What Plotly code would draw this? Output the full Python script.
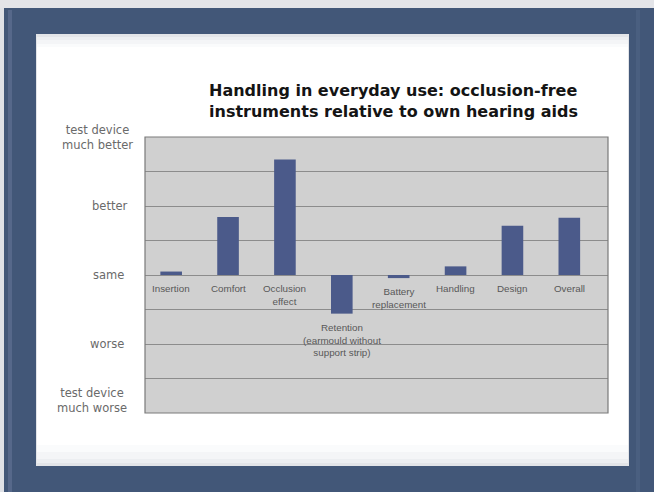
import plotly.graph_objects as go

# Survey results: rating of the test device vs. own hearing aids
categories = [
    "Insertion",
    "Comfort",
    "Occlusion<br>effect",
    "Retention<br>(earmould without<br>support strip)",
    "Battery<br>replacement",
    "Handling",
    "Design",
    "Overall",
]
ratings = [0.1, 1.68, 3.35, -1.12, -0.09, 0.25, 1.43, 1.66]

scale_values = [4, 2, 0, -2, -4]
scale_labels = [
    "test device<br>much better",
    "better",
    "same",
    "worse",
    "test device<br>much worse",
]

W, H = 654, 492
L, R, T, B = 145, 46, 137, 79
PW, PH = W - L - R, H - T - B


def px(x):
    return (x - L) / PW


def py(y):
    return (H - B - y) / PH


FRAME = "#425778"
BAR = "#4b5a8a"

idx = list(range(len(categories)))

fig = go.Figure(
    go.Bar(
        x=idx,
        y=ratings,
        width=0.38,
        marker=dict(color=BAR, line=dict(width=0)),
        hoverinfo="skip",
    )
)


def rect(x0, y0, x1, y1, color):
    return dict(type="rect", xref="paper", yref="paper",
                x0=px(x0), x1=px(x1), y0=py(y0), y1=py(y1),
                fillcolor=color, line=dict(width=0), layer="below")


shapes = [
    # light strip above and left of the frame
    rect(0, 0, W, 8, "#e3e4e8"),
    rect(0, 8, 4, H, "#dfe1e6"),
    # subtle highlights on the frame
    rect(8, 10, 12, H, "#56688a"),
    rect(636, 10, 640, H, "#4a5f80"),
    # slide panel with soft shading at top and bottom edges
    rect(36, 34, 629, 466, "#e2e4e8"),
    rect(37, 37, 628, 463, "#eceef1"),
    rect(37, 40, 628, 459, "#f4f5f7"),
    rect(37, 44, 628, 452, "#fafbfc"),
    rect(37, 47, 628, 445, "#ffffff"),
    # plot background
    rect(L, T, W - R, H - B, "#d0d0d0"),
    # plot area border
    dict(type="rect", xref="paper", yref="paper", x0=0, x1=1, y0=0, y1=1,
         line=dict(color="#7a7a7a", width=1.2), fillcolor="rgba(0,0,0,0)"),
]

annotations = [
    dict(
        text="Handling in everyday use: occlusion-free<br>instruments relative to own hearing aids",
        xref="paper", yref="paper", x=px(393), y=py(101),
        showarrow=False, xanchor="center", yanchor="middle", align="left",
        font=dict(family="DejaVu Sans", size=16, color="#141414", weight="bold"),
    )
]

# category labels sit just below the bar foot (or the zero line)
for i, (cat, val) in enumerate(zip(categories, ratings)):
    annotations.append(
        dict(
            text=cat, x=i, y=min(val, 0), xref="x", yref="y",
            showarrow=False, xanchor="center", yanchor="top", yshift=-6,
            align="center",
            font=dict(family="Liberation Sans", size=9.8, color="#585858"),
        )
    )

# scale labels on the left
label_x = [97, 109, 108, 107, 92]
for v, lab, lx in zip(scale_values, scale_labels, label_x):
    shift = 0
    if v == scale_values[-1]:
        shift = 13
    annotations.append(
        dict(
            text=lab, x=px(lx), y=v, xref="paper", yref="y",
            showarrow=False, xanchor="center", yanchor="middle", yshift=shift,
            align="center",
            font=dict(family="DejaVu Sans", size=11.5, color="#6a6a6a"),
        )
    )

fig.update_layout(
    width=W,
    height=H,
    margin=dict(l=L, r=R, t=T, b=B, pad=0),
    paper_bgcolor=FRAME,
    plot_bgcolor="#d0d0d0",
    showlegend=False,
    shapes=shapes,
    annotations=annotations,
    xaxis=dict(
        range=[-0.46, 7.68],
        showticklabels=False,
        showgrid=False,
        zeroline=False,
        ticks="",
    ),
    yaxis=dict(
        range=[-4, 4],
        dtick=1,
        showticklabels=False,
        showgrid=True,
        gridcolor="#8c8c8c",
        gridwidth=1,
        zeroline=True,
        zerolinecolor="#8c8c8c",
        zerolinewidth=1,
        ticks="",
    ),
)

fig.write_html("out.html")
